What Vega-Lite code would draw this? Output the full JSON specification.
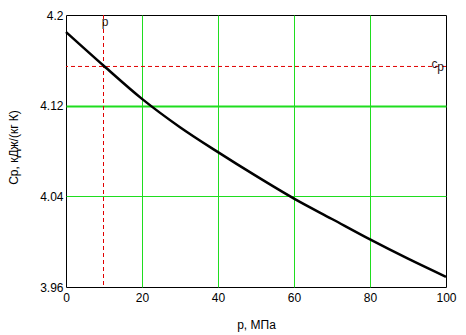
{
  "$schema": "https://vega.github.io/schema/vega-lite/v6.json",
  "width": 380,
  "height": 272,
  "autosize": {"type": "none"},
  "padding": {"left": 66, "top": 15, "right": 20, "bottom": 48},
  "background": "white",
  "config": {
    "view": {"stroke": "#000000", "strokeWidth": 1},
    "font": "Liberation Sans",
    "axis": {
      "labelFont": "Liberation Sans",
      "titleFont": "Liberation Sans",
      "labelFontSize": 12,
      "titleFontSize": 12,
      "labelColor": "#000000",
      "titleColor": "#000000",
      "titleFontWeight": "normal",
      "domain": false,
      "ticks": false,
      "labelOverlap": false,
      "labelBound": false,
      "labelFlush": false
    }
  },
  "datasets": {
    "curve": [
      {"p": 0, "cp": 4.185},
      {"p": 10, "cp": 4.155},
      {"p": 20, "cp": 4.126},
      {"p": 30, "cp": 4.101},
      {"p": 40, "cp": 4.079},
      {"p": 50, "cp": 4.058},
      {"p": 60, "cp": 4.038},
      {"p": 70, "cp": 4.020},
      {"p": 80, "cp": 4.002},
      {"p": 90, "cp": 3.985},
      {"p": 100, "cp": 3.969}
    ],
    "marker": [{"p": 9.87, "cp": 4.1546}],
    "labels": [
      {"p": 9.4, "cp": 4.1907, "text": "p"},
      {"p": 96.2, "cp": 4.1533, "text": "c"},
      {"p": 97.7, "cp": 4.1502, "text": "p"}
    ]
  },
  "layer": [
    {
      "data": {"name": "marker"},
      "mark": {"type": "rule", "color": "#e00000", "strokeWidth": 1, "strokeDash": [4, 3]},
      "encoding": {
        "y": {
          "field": "cp",
          "type": "quantitative",
          "scale": {"domain": [3.96, 4.2], "nice": false, "zero": false},
          "axis": {
            "values": [3.96, 4.04, 4.12, 4.2],
            "format": ".3~g",
            "labelPadding": 3,
            "grid": true,
            "gridColor": {"condition": {"test": "datum.value <= 3.961 || datum.value >= 4.199", "value": "transparent"}, "value": "#1fdd1f"},
            "gridWidth": {"condition": {"test": "abs(datum.value - 4.12) < 0.001", "value": 2}, "value": 1},
            "gridOpacity": 1,
            "title": "Cp, кДж/(кг К)",
            "titleX": -53,
            "titleY": 132,
            "titleAngle": -90,
            "titleAlign": "center",
            "titleBaseline": "middle"
          }
        }
      }
    },
    {
      "data": {"name": "marker"},
      "mark": {"type": "rule", "color": "#e00000", "strokeWidth": 1, "strokeDash": [4, 3]},
      "encoding": {
        "x": {
          "field": "p",
          "type": "quantitative",
          "scale": {"domain": [0, 100], "nice": false},
          "axis": {
            "values": [0, 20, 40, 60, 80, 100],
            "labelPadding": 5,
            "grid": true,
            "gridColor": {"condition": {"test": "datum.value <= 0 || datum.value >= 100", "value": "transparent"}, "value": "#1fdd1f"},
            "gridWidth": 1,
            "gridOpacity": 1,
            "title": "p, МПа",
            "titlePadding": 16
          }
        }
      }
    },
    {
      "data": {"name": "curve"},
      "mark": {"type": "line", "color": "#000000", "strokeWidth": 2.5, "interpolate": "monotone"},
      "encoding": {
        "x": {"field": "p", "type": "quantitative"},
        "y": {"field": "cp", "type": "quantitative"}
      }
    },
    {
      "data": {"name": "labels"},
      "mark": {"type": "text", "align": "left", "baseline": "alphabetic", "fontSize": 12, "color": "#2a1a1a", "font": "Liberation Sans"},
      "encoding": {
        "x": {"field": "p", "type": "quantitative"},
        "y": {"field": "cp", "type": "quantitative"},
        "text": {"field": "text"}
      }
    }
  ]
}
